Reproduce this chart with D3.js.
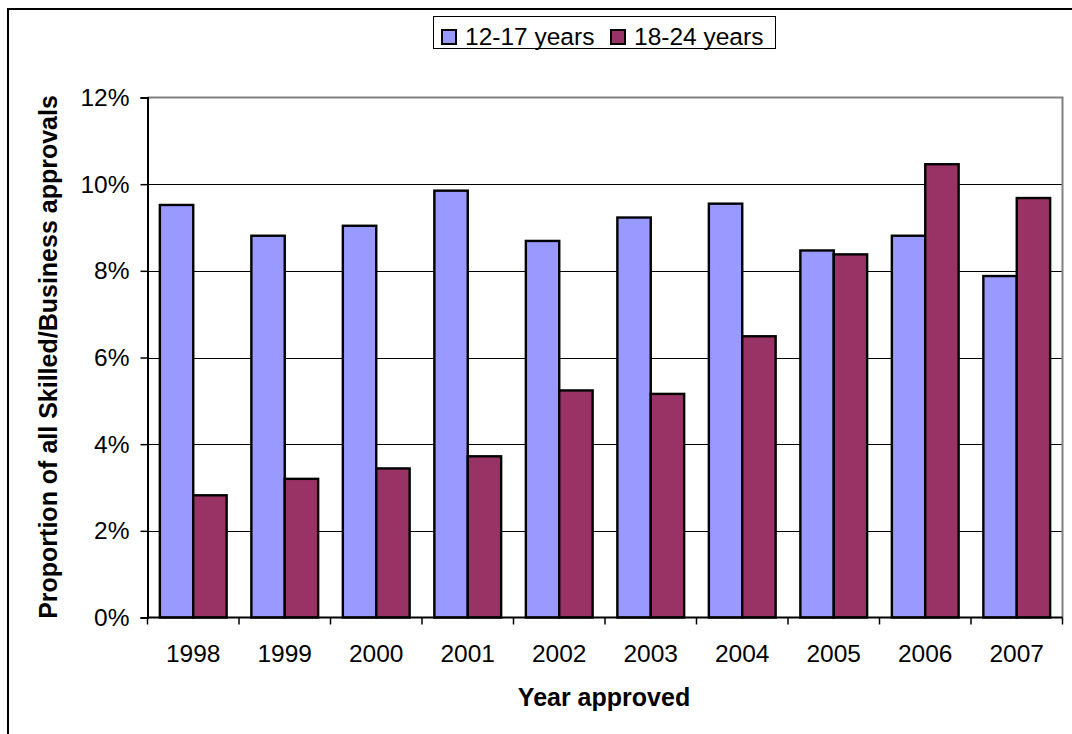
<!DOCTYPE html>
<html>
<head>
<meta charset="utf-8">
<script src="https://cdn.jsdelivr.net/npm/d3@7"></script>
<style>
  html, body { margin: 0; padding: 0; background: #fff; }
  svg { display: block; font-family: Arial, "Liberation Sans", sans-serif; }
</style>
</head>
<body>
<svg id="chart" width="1072" height="734"></svg>
<script>
// Share of all Skilled/Business visa approvals by age group, per year
const years = ["1998", "1999", "2000", "2001", "2002", "2003", "2004", "2005", "2006", "2007"];
const seriesNames = ["12-17 years", "18-24 years"];
const age12to17 = [9.52, 8.81, 9.04, 9.85, 8.69, 9.23, 9.55, 8.47, 8.81, 7.88];
const age18to24 = [2.82, 3.20, 3.44, 3.72, 5.24, 5.16, 6.49, 8.38, 10.46, 9.68];
const yTicks = [0, 2, 4, 6, 8, 10, 12];
const colors = ["#9999FF", "#993366"];

const svg = d3.select("#chart");
const W = 1072, H = 734;
const plot = { left: 147.5, top: 97.5, right: 1062.5, bottom: 617.5 };
const labelSize = 24.5, titleSize = 25;

// outer chart frame
svg.append("rect")
  .attr("x", 8).attr("y", 9)
  .attr("width", W + 10).attr("height", H + 10)
  .attr("fill", "#fff").attr("stroke", "#000").attr("stroke-width", 2);

const x = d3.scaleBand().domain(years).range([plot.left, plot.right]).paddingInner(0).paddingOuter(0);
const xInner = d3.scaleBand().domain(seriesNames).range([0, x.bandwidth()]).paddingInner(0).paddingOuter(0.37);
const y = d3.scaleLinear().domain([0, 12]).range([plot.bottom, plot.top]);

// gridlines
svg.append("g")
  .selectAll("line")
  .data(yTicks.filter(t => t > 0 && t < 12))
  .join("line")
  .attr("x1", plot.left).attr("x2", plot.right)
  .attr("y1", d => Math.round(y(d)) + 0.5).attr("y2", d => Math.round(y(d)) + 0.5)
  .attr("stroke", "#000").attr("stroke-width", 1);

// plot area border (top and right)
svg.append("path")
  .attr("d", `M${plot.left},${plot.top}H${plot.right}V${plot.bottom}`)
  .attr("fill", "none").attr("stroke", "#808080").attr("stroke-width", 2);

// bars
const rows = years.map((yr, i) => ({ year: yr, values: [age12to17[i], age18to24[i]] }));
const groups = svg.append("g")
  .selectAll("g")
  .data(rows)
  .join("g")
  .attr("transform", d => `translate(${x(d.year)},0)`);

groups.selectAll("rect")
  .data(d => d.values.map((v, k) => ({ key: seriesNames[k], value: v, k })))
  .join("rect")
  .attr("x", d => xInner(d.key))
  .attr("width", xInner.bandwidth())
  .attr("y", d => y(d.value))
  .attr("height", d => y(0) - y(d.value))
  .attr("fill", d => colors[d.k])
  .attr("stroke", "#000").attr("stroke-width", 2.4);

// y axis
const yAxis = d3.axisLeft(y).tickValues(yTicks).tickFormat(d => d + "%").tickSize(7).tickPadding(11);
const gy = svg.append("g").attr("transform", `translate(${plot.left},0)`).call(yAxis);
gy.select(".domain").attr("stroke", "#000").attr("stroke-width", 2);
gy.selectAll(".tick line").attr("stroke", "#000").attr("stroke-width", 1.5);
gy.selectAll(".tick text").attr("font-size", labelSize).attr("fill", "#000")
  .attr("font-family", "Arial, 'Liberation Sans', sans-serif");

// x axis: ticks at category boundaries
const gx = svg.append("g").attr("transform", `translate(0,${plot.bottom})`);
gx.append("line").attr("x1", plot.left).attr("x2", plot.right)
  .attr("stroke", "#000").attr("stroke-width", 2);
const boundaries = years.map(yr => x(yr)).concat([plot.right]);
gx.selectAll("line.tk").data(boundaries).join("line").attr("class", "tk")
  .attr("x1", d => d).attr("x2", d => d).attr("y1", 0).attr("y2", 7)
  .attr("stroke", "#000").attr("stroke-width", 1.5);
gx.selectAll("text").data(years).join("text")
  .attr("x", d => x(d) + x.bandwidth() / 2)
  .attr("y", 44)
  .attr("text-anchor", "middle")
  .attr("font-size", labelSize)
  .text(d => d);

// axis titles
svg.append("text")
  .attr("x", 604).attr("y", 706)
  .attr("text-anchor", "middle")
  .attr("font-size", titleSize).attr("font-weight", "bold")
  .text("Year approved");

svg.append("text")
  .attr("transform", "translate(57,357) rotate(-90)")
  .attr("text-anchor", "middle")
  .attr("font-size", titleSize).attr("font-weight", "bold")
  .text("Proportion of all Skilled/Business approvals");

// legend
const legend = svg.append("g");
legend.append("rect")
  .attr("x", 433.5).attr("y", 16.5).attr("width", 342).attr("height", 32)
  .attr("fill", "#fff").attr("stroke", "#000").attr("stroke-width", 1);
const legendX = [442, 611];
seriesNames.forEach((name, k) => {
  legend.append("rect")
    .attr("x", legendX[k]).attr("y", 30).attr("width", 14).attr("height", 14)
    .attr("fill", colors[k]).attr("stroke", "#000").attr("stroke-width", 2);
  legend.append("text")
    .attr("x", legendX[k] + 23).attr("y", 45)
    .attr("font-size", labelSize)
    .text(name);
});
</script>
</body>
</html>
